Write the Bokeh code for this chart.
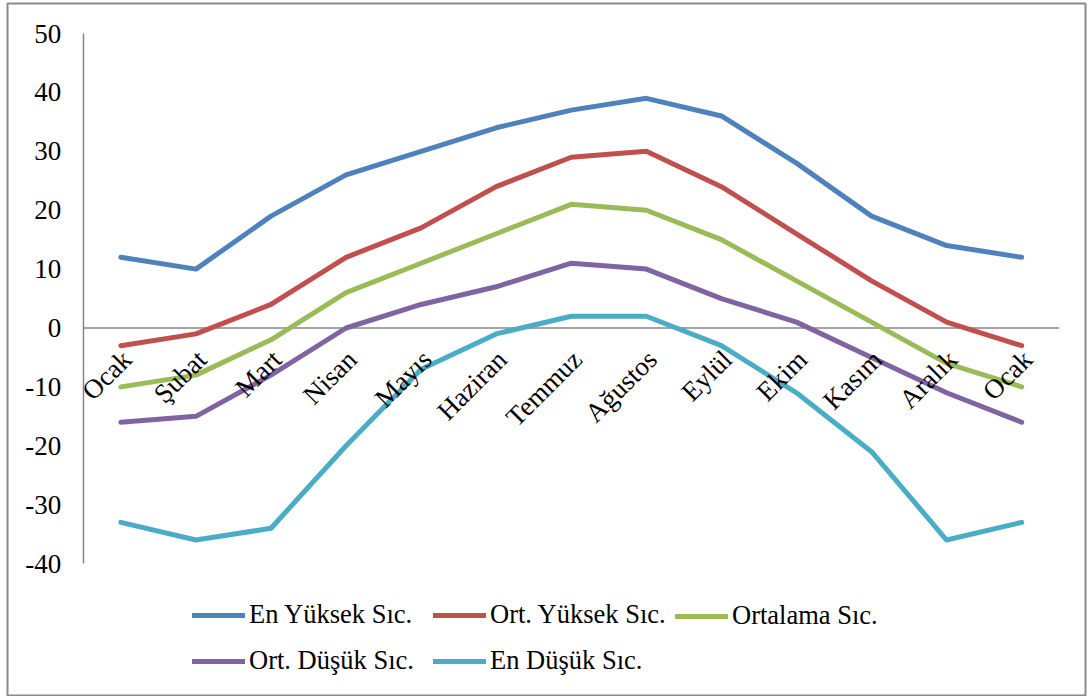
import numpy as np
from bokeh.plotting import figure
from bokeh.models import Range1d, FixedTicker, Legend, LegendItem, ColumnDataSource
from bokeh.core.properties import value
from bokeh.embed import file_html
from bokeh.resources import INLINE

months = ["Ocak", "Şubat", "Mart", "Nisan", "Mayıs", "Haziran", "Temmuz",
          "Ağustos", "Eylül", "Ekim", "Kasım", "Aralık", "Ocak"]

series_names = ["En Yüksek Sıc.", "Ort. Yüksek Sıc.", "Ortalama Sıc.",
                "Ort. Düşük Sıc.", "En Düşük Sıc."]

en_yuksek = [12, 10, 19, 26, 30, 34, 37, 39, 36, 28, 19, 14, 12]
ort_yuksek = [-3, -1, 4, 12, 17, 24, 29, 30, 24, 16, 8, 1, -3]
ortalama = [-10, -8, -2, 6, 11, 16, 21, 20, 15, 8, 1, -6, -10]
ort_dusuk = [-16, -15, -8, 0, 4, 7, 11, 10, 5, 1, -5, -11, -16]
en_dusuk = [-33, -36, -34, -20, -7, -1, 2, 2, -3, -11, -21, -36, -33]

y_ticks = [-40, -30, -20, -10, 0, 10, 20, 30, 40, 50]

colors = ["#4F81BD", "#C0504D", "#9BBB59", "#8064A2", "#4BACC6"]
series = [en_yuksek, ort_yuksek, ortalama, ort_dusuk, en_dusuk]

FONT = "Liberation Serif"

# The frame is the whole bordered chart area; the plot region sits inside it.
p = figure(width=1091, height=696, output_backend="svg", toolbar_location=None,
           x_range=Range1d(-1.51, 12.85), y_range=Range1d(-62.4, 55.1),
           min_border_left=7, min_border_top=3, min_border_right=6, min_border_bottom=1)
p.background_fill_color = "white"
p.border_fill_color = "white"
p.outline_line_color = "#8a8a8a"
p.outline_line_width = 2
p.xgrid.visible = False
p.ygrid.visible = False
p.xaxis.visible = False

ya = p.yaxis[0]
ya.fixed_location = -0.5
ya.bounds = (min(y_ticks), max(y_ticks))
ya.ticker = FixedTicker(ticks=y_ticks)
ya.major_label_overrides = {t: str(t) for t in y_ticks}
ya.axis_line_color = "#868686"
ya.axis_line_width = 1.5
ya.major_tick_line_color = None
ya.minor_tick_line_color = None
ya.major_tick_in = 0
ya.major_tick_out = 0
ya.major_label_standoff = 22
ya.major_label_text_font = FONT
ya.major_label_text_font_size = "27px"
ya.major_label_text_color = "black"

# category axis line crossing at 0
p.segment(x0=[-0.5], x1=[len(months) - 0.5], y0=[0], y1=[0],
          line_color="#868686", line_width=1.5)

xs = list(range(len(months)))
renderers = []
for ys, c in zip(series, colors):
    r = p.line(xs, ys, line_color=c, line_width=5, line_cap="round", line_join="round")
    renderers.append(r)

src = ColumnDataSource(dict(x=xs, y=[0] * len(months), t=months))
p.text(x="x", y="y", text="t", source=src, angle=np.pi / 4,
       text_align="right", text_baseline="middle", x_offset=6, y_offset=27,
       text_font=value(FONT), text_font_size="27px", text_color="black")

cols = [[0, 3], [1, 4], [2]]
col_x = [192, 433, 675]
frame_left = 7
frame_bottom = 695
for ci, idxs in enumerate(cols):
    items = [LegendItem(label=series_names[i], renderers=[renderers[i]]) for i in idxs]
    bottom = (661 if len(idxs) == 2 else 616) + 15
    leg = Legend(items=items, location=(col_x[ci] - frame_left, frame_bottom - bottom),
                 orientation="vertical", padding=0, margin=0, spacing=15,
                 glyph_width=53, glyph_height=30, label_height=30, label_standoff=4,
                 label_text_font=FONT, label_text_font_size="26.5px",
                 label_text_color="black", border_line_color=None,
                 background_fill_alpha=0)
    p.add_layout(leg)

open("out.html", "w").write(file_html(p, INLINE))
